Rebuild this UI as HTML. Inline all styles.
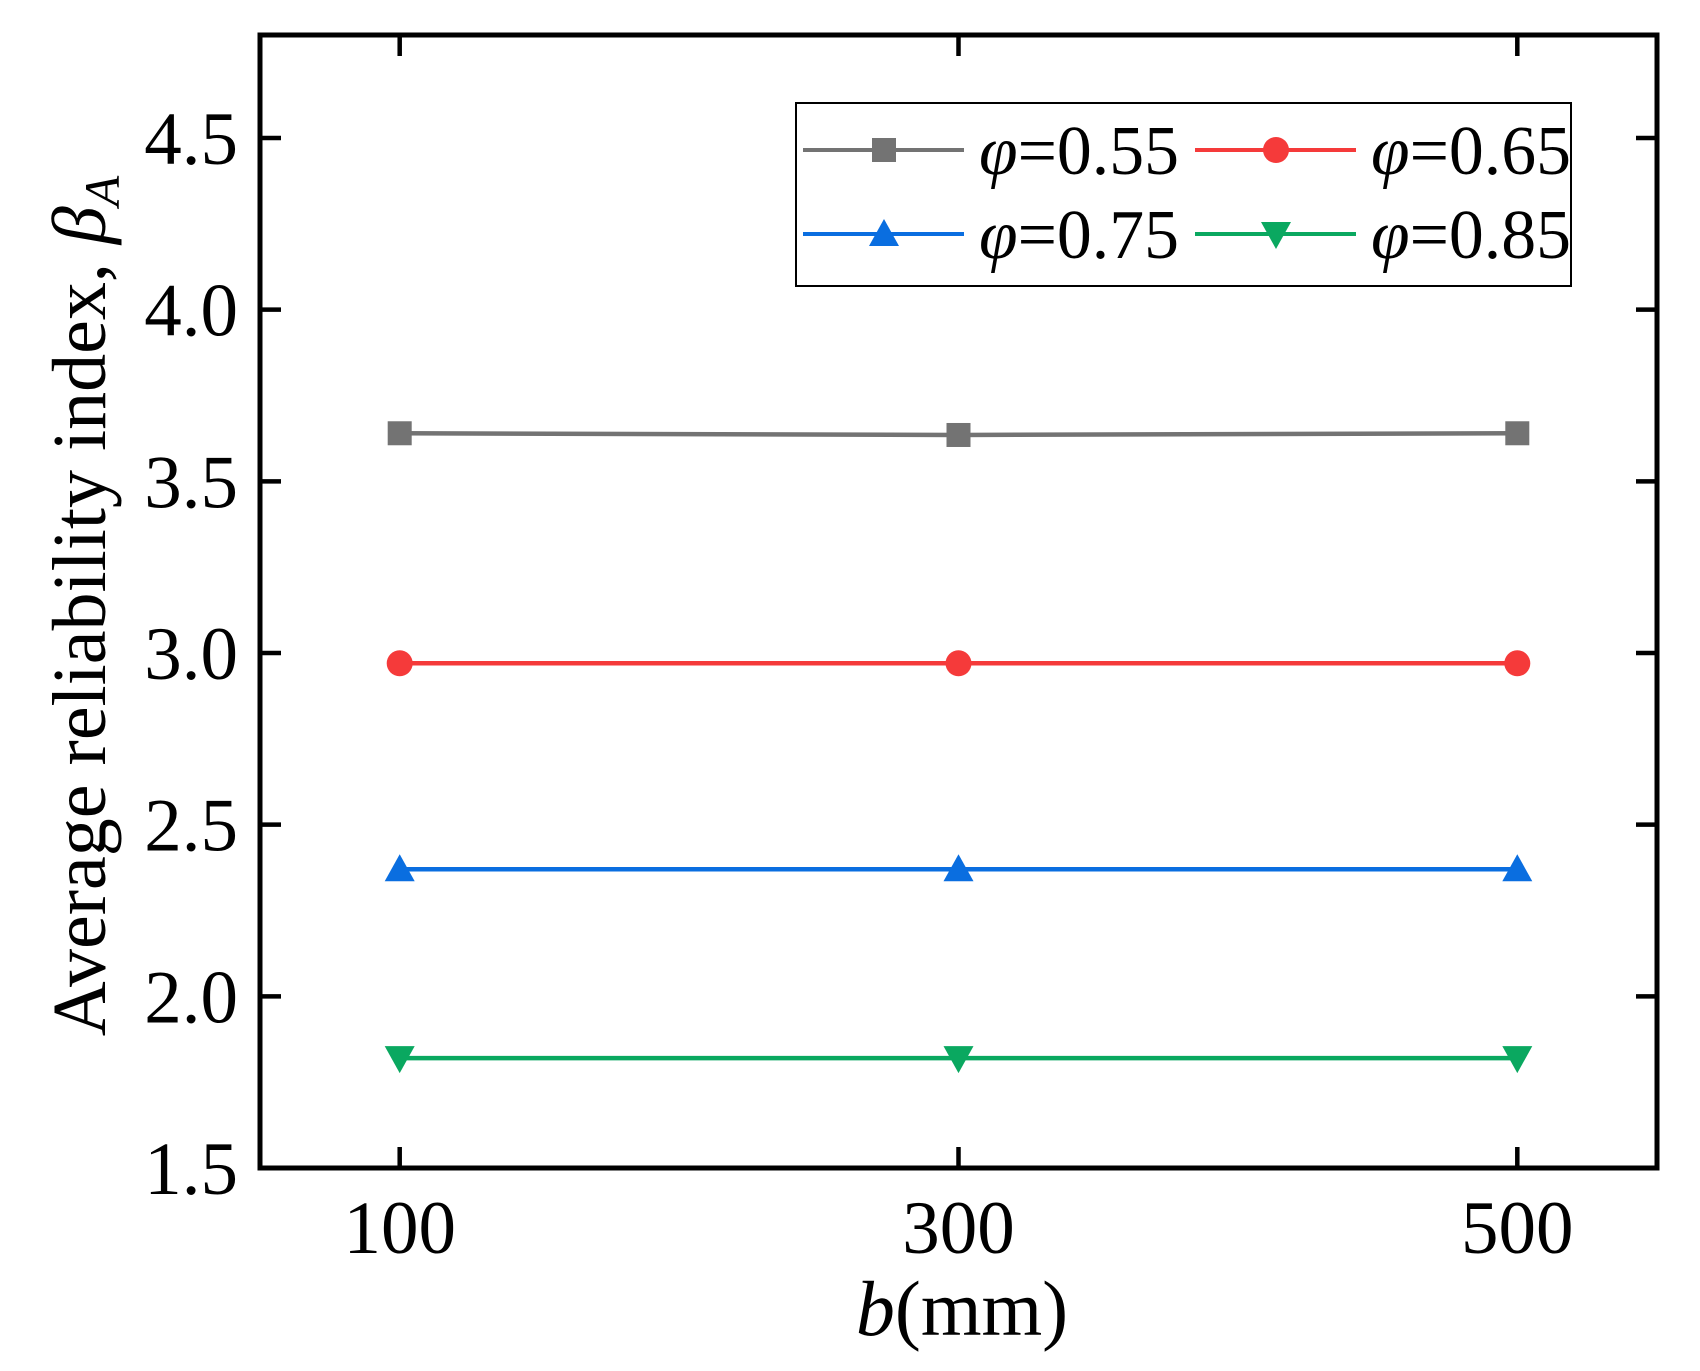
<!DOCTYPE html>
<html><head><meta charset="utf-8"><style>
html,body{margin:0;padding:0;background:#fff;}
svg{display:block;font-family:"Liberation Serif",serif;}
</style></head><body>
<svg id="chart" width="1700" height="1371" viewBox="0 0 1700 1371">
<g id="plot"></g>
</svg>
<script>
const categories = [100, 300, 500];
const seriesLabels = ["0.55", "0.65", "0.75", "0.85"];
const s055 = [3.64, 3.635, 3.64];
const s065 = [2.97, 2.97, 2.97];
const s075 = [2.37, 2.37, 2.37];
const s085 = [1.82, 1.82, 1.82];
const yTicks = [1.5, 2.0, 2.5, 3.0, 3.5, 4.0, 4.5];
const xTicks = [100, 300, 500];

const L=260,R=1657,T=35,B=1168;
const xMin=50,xMax=550,yMin=1.5,yMax=4.8;
const xs=v=>L+(v-xMin)/(xMax-xMin)*(R-L);
const ys=v=>B-(v-yMin)/(yMax-yMin)*(B-T);
const NS="http://www.w3.org/2000/svg";
const g=document.getElementById('plot');
function mk(tag,attrs,parent){const e=document.createElementNS(NS,tag);for(const k in attrs)e.setAttribute(k,attrs[k]);(parent||g).appendChild(e);return e;}

yTicks.forEach(t=>{
  const y=ys(t);
  let e=mk('line',{x1:L,x2:L+21,y1:y,y2:y,stroke:'#000','stroke-width':4.5});
  
  
  e=mk('line',{x1:R-21,x2:R,y1:y,y2:y,stroke:'#000','stroke-width':4.5});
  
  
  e=mk('text',{x:L-22,y:y+26,'text-anchor':'end','font-size':75});
  e.textContent=t.toFixed(1);
  
  
});
xTicks.forEach(t=>{
  const x=xs(t);
  let e=mk('line',{x1:x,x2:x,y1:B-21,y2:B,stroke:'#000','stroke-width':4.5});
  
  
  e=mk('line',{x1:x,x2:x,y1:T,y2:T+21,stroke:'#000','stroke-width':4.5});
  
  
  e=mk('text',{x:x,y:1253,'text-anchor':'middle','font-size':75});
  e.textContent=t;
  
  
});
let frame=mk('rect',{x:L,y:T,width:R-L,height:B-T,fill:'none',stroke:'#000','stroke-width':5});



const colors=['#737373','#f53a3a','#0a6ee0','#0aa860'];
const data=[s055,s065,s075,s085];
const shapes=['square','circle','up','down'];
function marker(shape,x,y,c,parent){
  let e;
  if(shape==='square') e=mk('rect',{x:x-12,y:y-12,width:24,height:24,fill:c},parent);
  else if(shape==='circle') e=mk('circle',{cx:x,cy:y,r:13,fill:c},parent);
  else if(shape==='up') e=mk('polygon',{points:`${x},${y-15} ${x-15},${y+12} ${x+15},${y+12}`,fill:c},parent);
  else e=mk('polygon',{points:`${x},${y+15} ${x-15},${y-12} ${x+15},${y-12}`,fill:c},parent);
  return e;
}
data.forEach((arr,i)=>{
  const pts=arr.map((v,j)=>xs(categories[j])+','+ys(v)).join(' ');
  let e=mk('polyline',{points:pts,fill:'none',stroke:colors[i],'stroke-width':4.5});
  
  
  arr.forEach((v,j)=>{
    const m=marker(shapes[i],xs(categories[j]),ys(v),colors[i]);
    
    
  });
});

const lg=mk('g',{});


mk('rect',{x:796,y:103,width:775,height:183,fill:'#fff',stroke:'#000','stroke-width':2},lg);
const lpos=[[803,150],[1195,150],[803,234],[1195,234]];
seriesLabels.forEach((lab,i)=>{
  const [x,y]=lpos[i];
  const eg=mk('g',{},lg);
  
  
  mk('line',{x1:x,x2:x+161,y1:y,y2:y,stroke:colors[i],'stroke-width':4},eg);
  marker(shapes[i],x+81,y,colors[i],eg);
  const t=mk('text',{x:x+176,y:y+24,'font-size':70,textLength:200,lengthAdjust:'spacingAndGlyphs'},eg);
  t.innerHTML='<tspan font-style="italic">φ</tspan>='+lab;
});

let xt=mk('text',{x:962,y:1335,'text-anchor':'middle','font-size':78});
xt.innerHTML='<tspan font-style="italic">b</tspan>(mm)';


let yt=mk('text',{x:0,y:0,'text-anchor':'middle','font-size':76,transform:'translate(105,606) rotate(-90)'});
yt.innerHTML='Average reliability index, <tspan font-style="italic">β</tspan><tspan font-style="italic" font-size="50" dy="14">A</tspan>';


</script>
</body></html>
